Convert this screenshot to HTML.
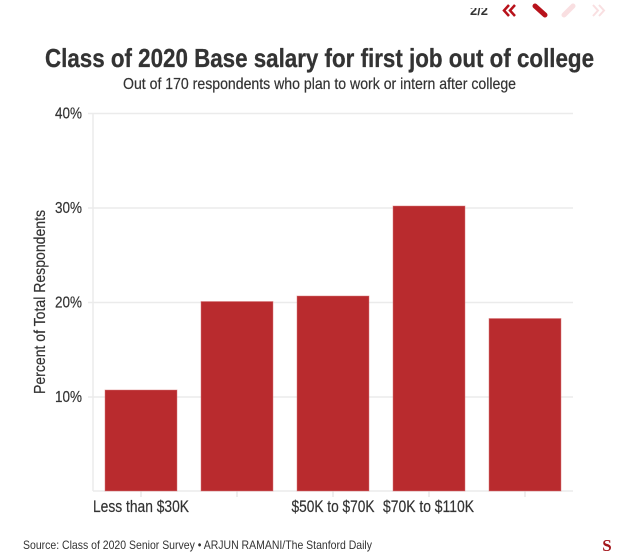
<!DOCTYPE html>
<html>
<head>
<meta charset="utf-8">
<style>
  html, body { margin:0; padding:0; background:#fff; }
  body { width:630px; height:560px; overflow:hidden; }
  svg { display:block; }
  text { font-family: "Liberation Sans Narrow", "Liberation Sans", sans-serif; fill:#333; }
</style>
</head>
<body>
<svg width="630" height="560" viewBox="0 0 630 560" xmlns="http://www.w3.org/2000/svg">
  <defs>
    <clipPath id="navclip"><rect x="460" y="8" width="40" height="10"/></clipPath>
  </defs>
  <!-- top nav -->
  <text x="470" y="15" font-size="13" font-weight="bold" textLength="18" lengthAdjust="spacingAndGlyphs" fill="#333" clip-path="url(#navclip)">2/2</text>
  <g fill="none" stroke="#b8121b" stroke-width="2.5">
    <polyline points="509,5 504,10.5 509,16"/>
    <polyline points="515,5 510,10.5 515,16"/>
  </g>
  <line x1="535" y1="6" x2="545" y2="15" stroke="#b8121b" stroke-width="5" stroke-linecap="round"/>
  <line x1="564" y1="15" x2="573" y2="6" stroke="#f9dfe1" stroke-width="5" stroke-linecap="round"/>
  <g fill="none" stroke="#f9dfe1" stroke-width="2">
    <polyline points="593,5 598,10.5 593,16"/>
    <polyline points="599,5 604,10.5 599,16"/>
  </g>

  <!-- titles -->
  <text x="45" y="67" font-size="26" font-weight="bold" textLength="549" lengthAdjust="spacingAndGlyphs" stroke="#333" stroke-width="0.3">Class of 2020 Base salary for first job out of college</text>
  <text x="123" y="89" font-size="16" textLength="393" lengthAdjust="spacingAndGlyphs" stroke="#333" stroke-width="0.2">Out of 170 respondents who plan to work or intern after college</text>

  <!-- gridlines -->
  <g stroke="#ebebeb" stroke-width="1.5">
    <line x1="88" y1="113.5" x2="573" y2="113.5"/>
    <line x1="88" y1="208" x2="573" y2="208"/>
    <line x1="88" y1="302.5" x2="573" y2="302.5"/>
    <line x1="88" y1="397" x2="573" y2="397"/>
    <line x1="93" y1="113" x2="93" y2="491"/>
    <line x1="93" y1="491" x2="573" y2="491"/>
  </g>
  <g stroke="#e3e3e3" stroke-width="1.2">
    <line x1="141" y1="491" x2="141" y2="497"/>
    <line x1="237" y1="491" x2="237" y2="497"/>
    <line x1="333" y1="491" x2="333" y2="497"/>
    <line x1="429" y1="491" x2="429" y2="497"/>
    <line x1="525" y1="491" x2="525" y2="497"/>
  </g>

  <!-- y tick labels -->
  <g font-size="16" text-anchor="end" stroke="#333" stroke-width="0.2">
    <text x="82" y="118.5" textLength="27" lengthAdjust="spacingAndGlyphs">40%</text>
    <text x="82" y="213" textLength="27" lengthAdjust="spacingAndGlyphs">30%</text>
    <text x="82" y="307.5" textLength="27" lengthAdjust="spacingAndGlyphs">20%</text>
    <text x="82" y="402" textLength="27" lengthAdjust="spacingAndGlyphs">10%</text>
  </g>

  <!-- y axis title -->
  <text transform="translate(45,302) rotate(-90)" font-size="16" text-anchor="middle" textLength="184" lengthAdjust="spacingAndGlyphs" stroke="#333" stroke-width="0.2">Percent of Total Respondents</text>

  <!-- bars -->
  <g fill="#b92b2e" stroke="#d9787a" stroke-width="0.8" stroke-opacity="0.6">
    <rect x="105" y="390" width="72" height="101"/>
    <rect x="201" y="301.5" width="72" height="189.5"/>
    <rect x="297" y="296" width="72" height="195"/>
    <rect x="393" y="206" width="72" height="285"/>
    <rect x="489" y="318.5" width="72" height="172.5"/>
  </g>

  <!-- x labels -->
  <g font-size="16.5" text-anchor="middle" stroke="#333" stroke-width="0.2">
    <text x="141" y="512" textLength="96" lengthAdjust="spacingAndGlyphs">Less than $30K</text>
    <text x="333" y="512" textLength="83" lengthAdjust="spacingAndGlyphs">$50K to $70K</text>
    <text x="428.5" y="512" textLength="91" lengthAdjust="spacingAndGlyphs">$70K to $110K</text>
  </g>

  <!-- source -->
  <text x="23" y="549" font-size="12" textLength="349" lengthAdjust="spacingAndGlyphs">Source: Class of 2020 Senior Survey • ARJUN RAMANI/The Stanford Daily</text>

  <!-- logo -->
  <text x="607" y="551" font-size="17" font-weight="bold" text-anchor="middle" style="fill:#a3161c;font-family:'Liberation Serif',serif;">S</text>
</svg>
</body>
</html>
